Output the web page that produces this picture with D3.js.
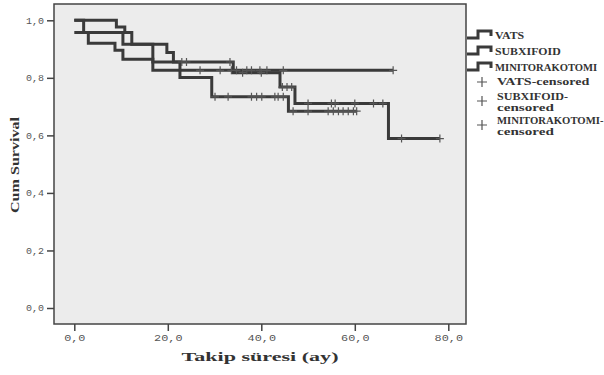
<!DOCTYPE html>
<html>
<head>
<meta charset="utf-8">
<script src="https://cdn.jsdelivr.net/npm/d3@7.9.0/dist/d3.min.js"></script>
<style>
  html, body { margin: 0; padding: 0; background: #fff; }
  svg { display: block; }
  text { font-family: "Liberation Mono", "DejaVu Sans Mono", monospace; }
  .serif { font-family: "Liberation Serif", "DejaVu Serif", serif; }
</style>
</head>
<body>
<div id="chart"></div>
<script>
// Kaplan-Meier steps: time at which the level starts, survival level
const vatsTime = [0, 9.0, 10.8, 12.3, 19.8, 21.2, 34.0, 44.0, 47.2, 67.2];
const vatsSurv = [1.0, 0.977, 0.958, 0.917, 0.888, 0.855, 0.818, 0.768, 0.711, 0.589];
const vatsEnd = 78.2;
const vatsCensored = [23, 24, 33.3, 36, 40, 44.5, 45.5, 46.5, 50, 55, 55.8, 60, 64, 66, 70, 78.2];

const subxTime = [0, 2.0, 3.0, 8.7, 10.4, 16.8];
const subxSurv = [1.0, 0.958, 0.92, 0.896, 0.865, 0.826];
const subxEnd = 68.2;
const subxCensored = [26.9, 31.2, 33.6, 34.7, 36.9, 37.9, 39.7, 41.2, 44.7, 68.2];

const miniTime = [0, 10.4, 16.8, 22.6, 29.4, 45.8];
const miniSurv = [0.958, 0.917, 0.855, 0.801, 0.734, 0.684];
const miniEnd = 60.4;
const miniCensored = [30.1, 32.9, 37.9, 39, 40.1, 42.9, 43.6, 44.7, 46.8, 50, 54.3, 55.4, 56.5, 57.5, 58.6, 59.7, 60.4];

const xTicks = [0, 20, 40, 60, 80];
const yTicks = [0, 0.2, 0.4, 0.6, 0.8, 1.0];
const legendNames = ['VATS', 'SUBXIFOID', 'MINITORAKOTOMI'];
const legendCensored = [['VATS-censored'], ['SUBXIFOID-', 'censored'], ['MINITORAKOTOMI-', 'censored']];

const width = 604, height = 375;
const panel = { left: 54, top: 4, right: 466, bottom: 324 };
const lineColor = '#3a3a3a';

const svg = d3.select('#chart').append('svg')
    .attr('width', width).attr('height', height);

const xScale = d3.scaleLinear().domain([0, 80]).range([74.3, 448.3]);
const yScale = d3.scaleLinear().domain([0, 1]).range([308, 20.3]);

// panel
svg.append('rect')
    .attr('x', panel.left).attr('y', panel.top)
    .attr('width', panel.right - panel.left).attr('height', panel.bottom - panel.top)
    .attr('fill', '#ececec')
    .attr('stroke', '#444').attr('stroke-width', 1.5);

// axes
const fmt = d => d3.format('.1f')(d).replace('.', ',');

const xAxis = svg.append('g')
    .attr('transform', `translate(0, ${panel.bottom})`)
    .call(d3.axisBottom(xScale).tickValues(xTicks).tickSize(7).tickSizeOuter(0).tickPadding(4).tickFormat(fmt));
xAxis.select('.domain').remove();
xAxis.selectAll('line').attr('stroke', '#444').attr('stroke-width', 1.5);
xAxis.selectAll('text')
    .attr('fill', '#555').attr('font-size', 9)
    .attr('lengthAdjust', 'spacingAndGlyphs')
    .attr('textLength', d => fmt(d).length * 7.1);

const yAxis = svg.append('g')
    .attr('transform', `translate(${panel.left}, 0)`)
    .call(d3.axisLeft(yScale).tickValues(yTicks).tickSize(7).tickSizeOuter(0).tickPadding(3).tickFormat(fmt));
yAxis.select('.domain').remove();
yAxis.selectAll('line').attr('stroke', '#444').attr('stroke-width', 1.5);
yAxis.selectAll('text')
    .attr('fill', '#555').attr('font-size', 9)
    .attr('lengthAdjust', 'spacingAndGlyphs')
    .attr('textLength', 18);

// axis titles
svg.append('text')
    .attr('class', 'serif')
    .attr('x', 260).attr('y', 361)
    .attr('text-anchor', 'middle')
    .attr('font-size', 12).attr('font-weight', 'bold').attr('fill', '#333')
    .attr('lengthAdjust', 'spacingAndGlyphs').attr('textLength', 157)
    .text('Takip süresi (ay)');

svg.append('text')
    .attr('class', 'serif')
    .attr('transform', 'translate(19, 165) rotate(-90)')
    .attr('text-anchor', 'middle')
    .attr('font-size', 11.5).attr('font-weight', 'bold').attr('fill', '#333')
    .attr('lengthAdjust', 'spacingAndGlyphs').attr('textLength', 96)
    .text('Cum Survival');

// survival curves
const series = [
    { time: vatsTime, surv: vatsSurv, end: vatsEnd, cens: vatsCensored },
    { time: subxTime, surv: subxSurv, end: subxEnd, cens: subxCensored },
    { time: miniTime, surv: miniSurv, end: miniEnd, cens: miniCensored },
];

const stepLine = d3.line()
    .x(d => xScale(d[0]))
    .y(d => yScale(d[1]))
    .curve(d3.curveStepAfter);

// survival level at time t
function levelAt(s, t) {
    let v = s.surv[0];
    s.time.forEach((tt, i) => { if (tt <= t) v = s.surv[i]; });
    return v;
}

const curves = svg.append('g').attr('class', 'curves');
series.forEach(s => {
    const pts = s.time.map((t, i) => [t, s.surv[i]]);
    pts.push([s.end, s.surv[s.surv.length - 1]]);
    curves.append('path')
        .attr('d', stepLine(pts))
        .attr('fill', 'none')
        .attr('stroke', lineColor)
        .attr('stroke-width', 3);
});

const marks = svg.append('g').attr('class', 'censored');
series.forEach(s => {
    marks.selectAll(null)
        .data(s.cens)
        .join('path')
        .attr('transform', d => `translate(${xScale(d)}, ${yScale(levelAt(s, d))})`)
        .attr('d', 'M0,-4V4M-4,0H4')
        .attr('stroke', '#555')
        .attr('stroke-width', 1.2);
});

// legend
const legend = svg.append('g').attr('class', 'legend');
const rowY = [36, 52, 68];
legendNames.forEach((name, i) => {
    const c = rowY[i];
    legend.append('path')
        .attr('d', `M467,${c + 2}H478V${c - 5}H491V${c}`)
        .attr('fill', 'none').attr('stroke', lineColor).attr('stroke-width', 3);
    legend.append('text')
        .attr('class', 'serif')
        .attr('x', 495).attr('y', c + 3)
        .attr('font-size', 9.5).attr('font-weight', 'bold').attr('fill', '#333')
        .attr('lengthAdjust', 'spacingAndGlyphs').attr('textLength', name.length * 7.3)
        .text(name);
});

const censRowY = [82, 97, 121];
legendCensored.forEach((lines, i) => {
    const c = censRowY[i];
    const plusY = lines.length > 1 ? c + 4 : c;
    legend.append('path')
        .attr('d', `M482,${plusY - 5}V${plusY + 5}M477,${plusY}H487`)
        .attr('stroke', '#555').attr('stroke-width', 1.2);
    lines.forEach((ln, j) => {
        legend.append('text')
            .attr('class', 'serif')
            .attr('x', 497).attr('y', c + 3 + j * 10.5)
            .attr('font-size', 9.5).attr('font-weight', 'bold').attr('fill', '#333')
            .attr('lengthAdjust', 'spacingAndGlyphs').attr('textLength', ln.length * 7.1)
            .text(ln);
    });
});
</script>
</body>
</html>
